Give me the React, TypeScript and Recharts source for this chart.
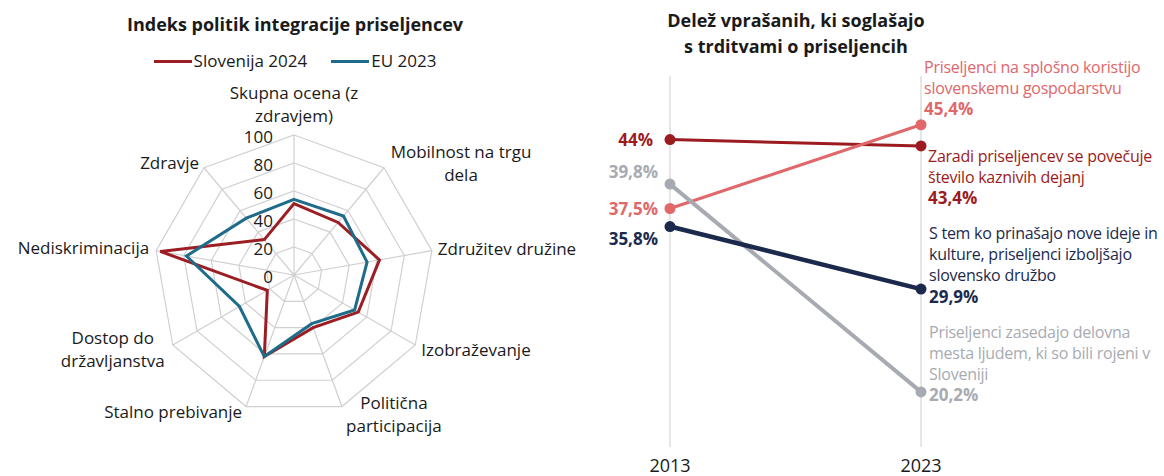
import React from "react";
import {
  RadarChart, Radar, PolarGrid, PolarAngleAxis, PolarRadiusAxis,
  LineChart, Line, XAxis, YAxis, CartesianGrid, LabelList,
} from "recharts";

// --- left: radar ---
const categories = [
  "Skupna ocena (z zdravjem)",
  "Mobilnost na trgu dela",
  "Združitev družine",
  "Izobraževanje",
  "Politična participacija",
  "Stalno prebivanje",
  "Dostop do državljanstva",
  "Nediskriminacija",
  "Zdravje",
];
const slovenija2024 = [51, 49, 62, 53, 40, 62, 22, 97, 33];
const eu2023 = [54, 55, 53, 50, 37, 62, 45, 78, 53];

// --- right: slope chart ---
const years = ["2013", "2023"];
const koristijo = [37.5, 45.4];
const kaznivih = [44, 43.4];
const ideje = [35.8, 29.9];
const zasedajo = [39.8, 20.2];

const FONT = "'Open Sans', sans-serif";
const CX = 294;
const CY = 275;
const R = 140;

const radarSeries = [
  { key: "slovenija", name: "Slovenija 2024", color: "#9C1D23" },
  { key: "eu", name: "EU 2023", color: "#1E6C8A" },
];

const statements = [
  { key: "kaznivih", text: "Zaradi priseljencev se povečuje število kaznivih dejanj", color: "#9B1B20", width: 3, leftDx: -17, leftDy: 0, rightDx: 7, rightDy: 10 },
  { key: "koristijo", text: "Priseljenci na splošno koristijo slovenskemu gospodarstvu", color: "#E0676A", width: 3, leftDx: -12, leftDy: 0, rightDx: 3, rightDy: -58 },
  { key: "zasedajo", text: "Priseljenci zasedajo delovna mesta ljudem, ki so bili rojeni v Sloveniji", color: "#A7ABB1", width: 4, leftDx: -12, leftDy: -13, rightDx: 8, rightDy: -60 },
  { key: "ideje", text: "S tem ko prinašajo nove ideje in kulture, priseljenci izboljšajo slovensko družbo", color: "#1B2A4C", width: 4.5, leftDx: -12, leftDy: 12, rightDx: 8, rightDy: -56 },
];

const radarData = categories.map((c, i) => ({ category: c, slovenija: slovenija2024[i], eu: eu2023[i] }));
const slopeData = years.map((y, i) => ({
  year: y,
  koristijo: koristijo[i],
  kaznivih: kaznivih[i],
  ideje: ideje[i],
  zasedajo: zasedajo[i],
}));

const wrap = (text: string, max: number) => {
  const out: string[] = [];
  let cur = "";
  text.split(" ").forEach((w) => {
    if (cur && (cur + " " + w).length > max) {
      out.push(cur);
      cur = w;
    } else cur = cur ? cur + " " + w : w;
  });
  if (cur) out.push(cur);
  return out;
};

const fmt = (v: number) => String(v).replace(".", ",") + "%";

// label placement around each vertex (anchor, dx, block-centre dy)
const anglePlace: [string, number, number][] = [
  ["middle", 0, -31],
  ["middle", 77, -5],
  ["start", 6, -2],
  ["start", 6, 4],
  ["middle", 52, 7],
  ["end", -4, 5],
  ["middle", -60, 4],
  ["end", -7, -3],
  ["end", -5, -5],
];

const AngleTick = (props: any) => {
  const idx = props.index ?? props.payload.index;
  const a = ((90 - idx * 40) * Math.PI) / 180;
  const vx = CX + R * Math.cos(a);
  const vy = CY - R * Math.sin(a);
  const [anchor, dx, dy] = anglePlace[idx];
  const lines = wrap(props.payload.value, 17);
  const lh = 23;
  const y0 = vy + dy - ((lines.length - 1) * lh) / 2;
  return (
    <text x={vx + dx} y={y0} textAnchor={anchor as any} fill="#1a1a1a" fontSize={17} fontFamily={FONT}>
      {lines.map((l, i) => (
        <tspan key={i} x={vx + dx} y={y0 + i * lh} dominantBaseline="central">{l}</tspan>
      ))}
    </text>
  );
};

const RadiusTick = (props: any) => (
  <text x={props.x - 21} y={props.y + 1} textAnchor="end" dominantBaseline="central" fill="#1a1a1a" fontSize={17} fontFamily={FONT}>
    {props.payload.value}
  </text>
);

const makeLabel = (s: typeof statements[number]) => (props: any) => {
  const { x, y, index, value } = props;
  if (index === 0) {
    return (
      <text x={x + s.leftDx} y={y + s.leftDy} textAnchor="end" dominantBaseline="central" fill={s.color} fontSize={17} fontWeight={700} fontFamily={FONT}>
        {fmt(value)}
      </text>
    );
  }
  const lines = wrap(s.text, 33);
  const lh = 21;
  return (
    <g>
      {lines.map((l, i) => (
        <text key={i} x={x + s.rightDx} y={y + s.rightDy + i * lh} dominantBaseline="central" fill={s.color} fontSize={16} letterSpacing={-0.25} fontFamily={FONT}>
          {l}
        </text>
      ))}
      <text x={x + s.rightDx} y={y + s.rightDy + lines.length * lh} dominantBaseline="central" fill={s.color} fontSize={17} fontWeight={700} fontFamily={FONT}>
        {fmt(value)}
      </text>
    </g>
  );
};

export default function App() {
  return (
    <div style={{ position: "absolute", left: 0, top: 0, width: 1164, height: 476, background: "#fff", fontFamily: FONT, color: "#1a1a1a" }}>
      <div style={{ position: "absolute", left: 0, top: 11, width: 590, textAlign: "center", fontWeight: 700, fontSize: 18, lineHeight: "26px" }}>
        Indeks politik integracije priseljencev
      </div>
      <div style={{ position: "absolute", left: 0, top: 48, width: 590, display: "flex", justifyContent: "center", gap: 24, fontSize: 17, lineHeight: "26px" }}>
        {radarSeries.map((s) => (
          <span key={s.key} style={{ display: "flex", alignItems: "center" }}>
            <span style={{ display: "inline-block", width: 38, height: 3, background: s.color, marginRight: 2 }} />
            {s.name}
          </span>
        ))}
      </div>
      <div style={{ position: "absolute", left: 0, top: 0 }}>
        <RadarChart width={580} height={476} data={radarData} cx={CX} cy={CY} outerRadius={R} margin={{ top: 0, right: 0, bottom: 0, left: 0 }}>
          <PolarGrid gridType="polygon" stroke="#d0d0d0" strokeWidth={1.2} />
          <PolarAngleAxis dataKey="category" tick={<AngleTick />} tickLine={false} axisLine={false} />
          <PolarRadiusAxis angle={90} domain={[0, 100]} tickCount={6} axisLine={false} tickLine={false} tick={<RadiusTick />} />
          {radarSeries.map((s) => (
            <Radar key={s.key} dataKey={s.key} name={s.name} stroke={s.color} strokeWidth={3} fill="none" fillOpacity={0} dot={false} isAnimationActive={false} />
          ))}
        </RadarChart>
      </div>

      <div style={{ position: "absolute", left: 596, top: 7, width: 400, textAlign: "center", fontWeight: 700, fontSize: 18, lineHeight: "26px" }}>
        Delež vprašanih, ki soglašajo
        <br />
        s trditvami o priseljencih
      </div>
      <div style={{ position: "absolute", left: 580, top: 0 }}>
        <LineChart width={584} height={476} data={slopeData} margin={{ top: 76, right: 243, bottom: 0, left: 90 }}>
          <CartesianGrid horizontal={false} stroke="#d9d9d9" strokeWidth={1.3} />
          <XAxis dataKey="year" height={29} axisLine={false} tickLine={false} tickSize={0} tickMargin={12} tick={{ fill: "#1a1a1a", fontSize: 18, fontFamily: FONT }} />
          <YAxis hide type="number" domain={[15, 50]} />
          {statements.map((s) => (
            <Line key={s.key} type="linear" dataKey={s.key} stroke={s.color} strokeWidth={s.width} dot={{ r: 5.5, fill: s.color, stroke: s.color, strokeWidth: 0 }} activeDot={false} isAnimationActive={false}>
              <LabelList dataKey={s.key} content={makeLabel(s)} />
            </Line>
          ))}
        </LineChart>
      </div>
    </div>
  );
}
